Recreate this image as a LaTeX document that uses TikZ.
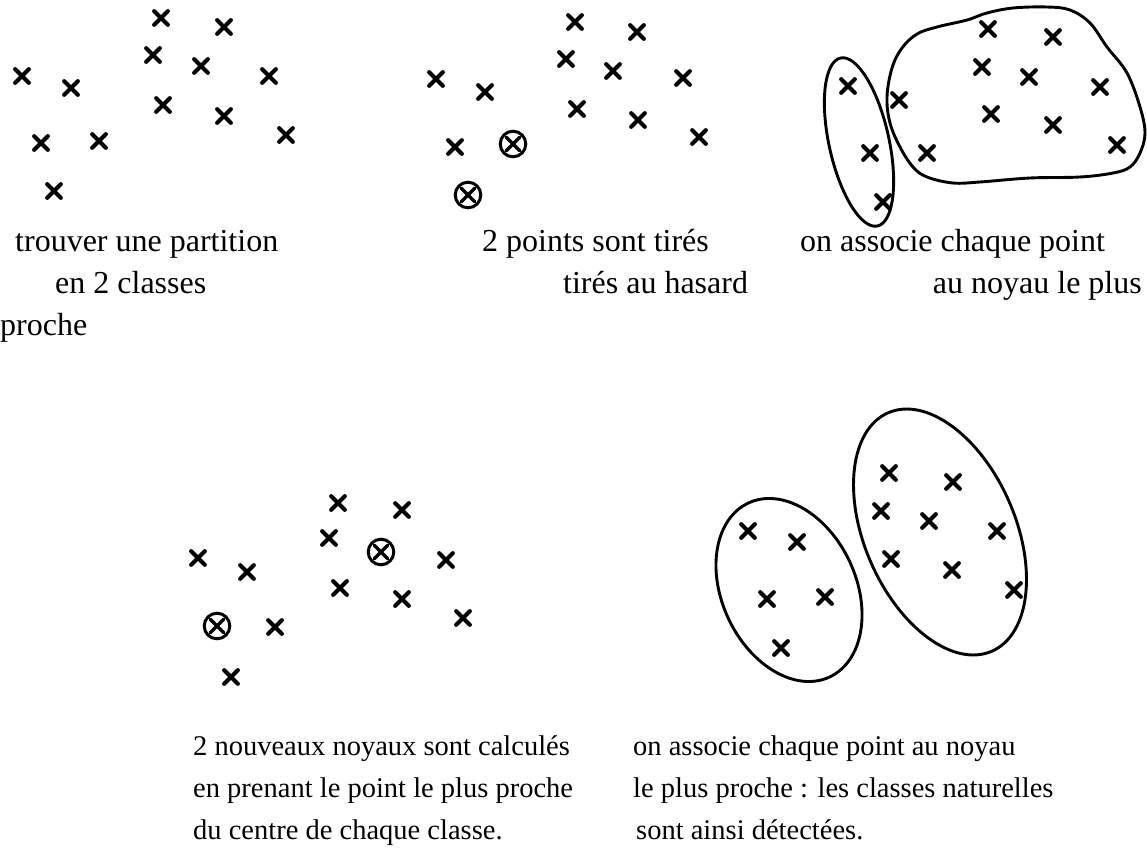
\documentclass[tikz,border=0pt]{standalone}
\usepackage{fontspec}
\setmainfont{Liberation Serif}
\begin{document}
\begin{tikzpicture}[x=1bp,y=-1bp,
  xmark/.pic={\draw[line width=4.2bp,line cap=round] (-6.8,-6.8)--(6.8,6.8) (-6.8,6.8)--(6.8,-6.8);},
  kern/.pic={\draw[line width=3bp] (0,0) circle (12.8);
             \draw[line width=3.4bp,line cap=round] (-6.6,-6.6)--(6.6,6.6) (-6.6,6.6)--(6.6,-6.6);},
  outline/.style={line width=2.9bp},
  toplbl/.style={anchor=base west,inner sep=0pt,font=\fontsize{32bp}{42bp}\selectfont},
  botlbl/.style={anchor=base west,inner sep=0pt,font=\fontsize{28.5bp}{42bp}\selectfont}]
\useasboundingbox (0,0) rectangle (1147,851);
% ---- panel 1
\foreach \p in {(161,18),(224,27),(153,55),(201,66),(269,76),(22,76),(71,88),(163,105),(224,116),(286,135),(41,143),(99,141),(54,191)}
  \pic at \p {xmark};
% ---- panel 2
\foreach \p in {(575,22),(637,32),(566,59),(613,71),(683,78),(436,79),(485,92),(577,109),(638,120),(699,137),(455,147)}
  \pic at \p {xmark};
\pic at (513,144) {kern};
\pic at (468,195) {kern};
% ---- panel 3
\foreach \p in {(988,29),(1053,37),(982,67),(1029,77),(1100,87),(848,86),(899,100),(991,114),(1053,125),(1117,145),(870,153),(927,153),(883,202)}
  \pic at \p {xmark};
\draw[outline,rotate around={12.4:(859,142)}] (859,142) ellipse [x radius=30,y radius=86];
\draw[outline] plot[smooth cycle,tension=0.6] coordinates {
  (887,97) (892,68) (902,48) (917,34) (937,27) (967,20) (987,13) (1013,8) (1047,7) (1070,10)
  (1090,23) (1107,47) (1127,73) (1140,107) (1145,133) (1140,153) (1130,167) (1113,173)
  (1080,177) (1030,178) (980,182) (953,183) (927,177) (913,167) (900,147) (890,123)};
% ---- panel 4
\foreach \p in {(198,558),(247,572),(338,503),(402,510),(329,538),(446,560),(340,588),(402,599),(463,618),(275,627),(231,677)}
  \pic at \p {xmark};
\pic at (381,552) {kern};
\pic at (217,626) {kern};
% ---- panel 5
\foreach \p in {(748,531),(797,542),(767,599),(825,597),(781,648),(889,473),(953,482),(881,511),(929,521),(997,531),(891,559),(952,570),(1014,590)}
  \pic at \p {xmark};
\draw[outline,rotate around={25:(789,590)}] (789,590) ellipse [x radius=67,y radius=96];
\draw[outline,rotate around={23.5:(940,532)}] (940,532) ellipse [x radius=75.5,y radius=130];
% ---- texts
\node[toplbl] (a1) at (15,251) {trouver une partition};
\node[toplbl] (a2) at (55,293) {en 2 classes};
\node[toplbl] (a3) at (0,335) {proche};
\node[toplbl] (b1) at (482,251) {2 points sont tirés};
\node[toplbl] (b2) at (563,293) {tirés au hasard};
\node[toplbl] (c1) at (800,251) {on associe chaque point};
\node[toplbl,anchor=base east] (c2) at (1142,293) {au noyau le plus};
\node[botlbl] (d1) at (193,755) {2 nouveaux noyaux sont calculés};
\node[botlbl] (d2) at (193,797) {en prenant le point le plus proche};
\node[botlbl] (d3) at (193,839) {du centre de chaque classe.};
\node[botlbl] (e1) at (633,755) {on associe chaque point au noyau};
\node[botlbl] (e2) at (633,797) {le plus proche : les classes naturelles};
\node[botlbl] (e3) at (636,839) {sont ainsi détectées.};
\end{tikzpicture}
\end{document}
